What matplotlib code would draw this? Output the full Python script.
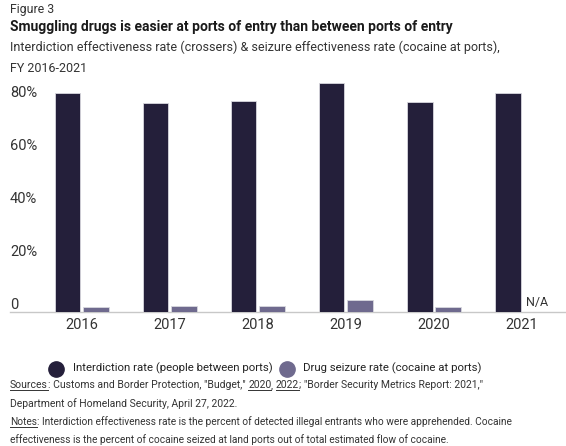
import matplotlib.pyplot as plt
import numpy as np
from matplotlib.lines import Line2D
import matplotlib.transforms as mtransforms

plt.rcParams['font.family'] = ['Roboto', 'DejaVu Sans']

# data
years = ['2016', '2017', '2018', '2019', '2020', '2021']
interdiction = [82.7, 78.8, 79.6, 86.3, 79.4, 82.5]
seizure = [1.9, 2.4, 2.1, 4.6, 2.0, None]   # 2021 not available
yticks = [0, 20, 40, 60, 80]
ytick_labels = ['0', '20%', '40%', '60%', '80%']
legend_labels = ['Interdiction rate (people between ports)', 'Drug seizure rate (cocaine at ports)']

dark = '#241f3a'
light = '#6f6a8e'
W, H = 566, 446

fig = plt.figure(figsize=(W / 100, H / 100), dpi=100)
ax = fig.add_axes([10 / W, (H - 312) / H, 556 / W, 232 / H])

x = np.arange(len(years))
bw = 0.29
ax.bar(x - 0.162, interdiction, bw, color=dark, edgecolor='#d8d8de', linewidth=0.6, zorder=3)
seiz_vals = [v if v is not None else 0 for v in seizure]
ax.bar(x + 0.157, seiz_vals, bw, color=light, edgecolor='#d8d8de', linewidth=0.6, zorder=3)
for i, v in enumerate(seizure):
    if v is None:
        ax.text(x[i] + 0.05, 1.2, 'N/A', fontsize=9, color='#333333', ha='left', va='bottom')

ax.set_xlim(-0.818, 5.5)
ax.set_ylim(0, 232 / 2.65)
ax.set_xticks(x)
ax.set_xticklabels(years, fontsize=10.5, color='#333333')
ax.tick_params(axis='x', length=0, pad=4)
ax.set_yticks([])
for s in ['top', 'right', 'left']:
    ax.spines[s].set_visible(False)
ax.spines['bottom'].set_color('#c8c8c8')
ax.spines['bottom'].set_linewidth(1.0)

# y labels sit above invisible gridlines
trans = mtransforms.blended_transform_factory(ax.transAxes, ax.transData)
for v, lab in zip(yticks, ytick_labels):
    ax.text(0, v + 2.5, lab, transform=trans, fontsize=10.5, color='#333333', ha='left', va='center')

# titles
fig.text(10 / W, 1 - 10 / H, 'Figure 3', fontsize=8.8, color='#333333', va='center')
fig.text(10 / W, 1 - 27 / H, 'Smuggling drugs is easier at ports of entry than between ports of entry',
         fontsize=10, fontweight='bold', color='#1a1a1a', va='center')
fig.text(10 / W, 1 - 47 / H,
         'Interdiction effectiveness rate (crossers) & seizure effectiveness rate (cocaine at ports),',
         fontsize=9.0, color='#333333', va='center')
fig.text(10 / W, 1 - 68 / H, 'FY 2016-2021', fontsize=9.0, color='#333333', va='center')

# legend, placed by hand
for cx, tx, col, lab in [(56, 73, dark, legend_labels[0]), (287, 303, light, legend_labels[1])]:
    fig.add_artist(Line2D([cx / W], [1 - 369 / H], marker='o', ls='', markersize=11, color=col))
    fig.text(tx / W, 1 - 368 / H, lab, fontsize=8.2, color='#222222', va='center')

# footnotes with underlined parts
renderer = fig.canvas.get_renderer()


def runs(x0, y0, parts, size=7.4):
    xp = x0
    for txt, ul in parts:
        t = fig.text(xp / W, 1 - y0 / H, txt, fontsize=size, color='#333333', va='baseline')
        bb = t.get_window_extent(renderer)
        if ul:
            yline = 1 - (y0 + 2) / H
            fig.add_artist(Line2D([bb.x0 / W, bb.x1 / W], [yline, yline], color='#333333', lw=0.7))
        xp = bb.x1


runs(10, 388, [('Sources', True), (': Customs and Border Protection, "Budget," ', False), ('2020', True),
               (', ', False), ('2022', True), ('; "Border Security Metrics Report: 2021,"', False)], size=7.5)
runs(10, 407, [('Department of Homeland Security, April 27, 2022.', False)], size=7.5)
runs(10, 425, [('Notes', True), (': Interdiction effectiveness rate is the percent of detected illegal entrants '
                                 'who were apprehended. Cocaine', False)], size=7.3)
runs(10, 443, [('effectiveness is the percent of cocaine seized at land ports out of total estimated flow of cocaine.',
                False)], size=7.3)

fig.savefig('out.png', dpi=100)
